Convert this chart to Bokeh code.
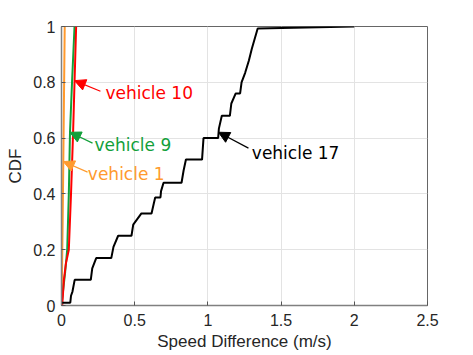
from bokeh.plotting import figure
from bokeh.models import (FixedTicker, Range1d, Arrow, NormalHead, Label)
from bokeh.embed import file_html
from bokeh.resources import INLINE

# ---- data ----
v1_x = [0.0, 0.003, 0.008, 0.012, 0.016, 0.019, 0.022]
v1_y = [0.0, 0.10, 0.30, 0.50, 0.70, 0.85, 1.0]

v9_x = [0.0, 0.010, 0.025, 0.039, 0.050, 0.058, 0.072, 0.089]
v9_y = [0.0, 0.05, 0.12, 0.20, 0.40, 0.62, 0.80, 1.0]

v10_x = [0.005, 0.016, 0.030, 0.050, 0.065, 0.078, 0.089, 0.100]
v10_y = [0.0, 0.09, 0.15, 0.20, 0.40, 0.60, 0.80, 1.0]

v17_x = [0.0, 0.06, 0.065, 0.075, 0.09, 0.20, 0.21, 0.237, 0.34, 0.355, 0.387,
         0.478, 0.49, 0.546, 0.615, 0.63, 0.64, 0.676, 0.68, 0.697, 0.82, 0.834,
         0.85, 0.96, 0.97, 1.07, 1.075, 1.095, 1.15, 1.16, 1.19, 1.22, 1.23,
         1.255, 1.28, 1.30, 1.34, 2.0]
v17_y = [0.01, 0.01, 0.035, 0.05, 0.092, 0.092, 0.133, 0.17, 0.17, 0.21, 0.25,
         0.25, 0.29, 0.33, 0.33, 0.365, 0.387, 0.387, 0.41, 0.44, 0.44, 0.484,
         0.523, 0.523, 0.60, 0.60, 0.634, 0.68, 0.68, 0.724, 0.76, 0.76, 0.80,
         0.835, 0.878, 0.92, 0.993, 1.0]

x_ticks = [0, 0.5, 1, 1.5, 2, 2.5]
x_tick_labels = ["0", "0.5", "1", "1.5", "2", "2.5"]
y_ticks = [0, 0.2, 0.4, 0.6, 0.8, 1]
y_tick_labels = ["0", "0.2", "0.4", "0.6", "0.8", "1"]

names = ["vehicle 1", "vehicle 9", "vehicle 10", "vehicle 17"]
colors = ["#ff9a2e", "#12a03a", "#ff0000", "#000000"]

FONT = "Liberation Sans"
AXC = "#262626"

p = figure(width=473, height=355, output_backend="svg", toolbar_location=None,
           x_range=Range1d(0, 2.5), y_range=Range1d(0, 1),
           min_border_left=61, min_border_right=46, min_border_top=26,
           min_border_bottom=50)
p.background_fill_color = "white"
p.border_fill_color = "white"
p.outline_line_color = "#666666"
p.outline_line_width = 1

for ax, ticks, labels in ((p.xaxis[0], x_ticks, x_tick_labels),
                          (p.yaxis[0], y_ticks, y_tick_labels)):
    ax.ticker = FixedTicker(ticks=ticks)
    ax.major_label_overrides = {t: l for t, l in zip(ticks, labels)}
    ax.major_tick_in = 4
    ax.major_tick_out = 0
    ax.minor_tick_in = 0
    ax.minor_tick_out = 0
    ax.axis_line_color = "#808080"
    ax.axis_line_width = 1.5
    ax.major_tick_line_color = "#555555"
    ax.major_label_text_font = FONT
    ax.major_label_text_font_size = "16px"
    ax.major_label_text_color = AXC
    ax.axis_label_text_font = FONT
    ax.axis_label_text_font_size = "17px"
    ax.axis_label_text_font_style = "normal"
    ax.axis_label_text_color = AXC

p.xaxis.axis_label = "Speed Difference (m/s)"
p.yaxis.axis_label = "CDF"
p.xaxis.major_label_standoff = 8
p.xaxis.axis_label_standoff = 3
p.yaxis.major_label_standoff = 6
p.yaxis.axis_label_standoff = 5

p.xgrid.ticker = FixedTicker(ticks=x_ticks)
p.ygrid.ticker = FixedTicker(ticks=y_ticks)
p.grid.grid_line_color = "#e3e3e3"
p.grid.grid_line_width = 1

# lines
series = [(v1_x, v1_y), (v9_x, v9_y), (v10_x, v10_y), (v17_x, v17_y)]
for (xs, ys), c in zip(series, colors):
    p.line(xs, ys, line_color=c, line_width=2)

# annotations: (arrow tail x,y), (arrow tip x,y), (text x,y)
annots = [
    ((0.178, 0.478), (0.012, 0.516), (0.18, 0.471)),
    ((0.212, 0.582), (0.057, 0.621), (0.225, 0.577)),
    ((0.266, 0.768), (0.089, 0.806), (0.30, 0.762)),
    ((1.277, 0.564), (1.072, 0.621), (1.30, 0.548)),
]
for name, c, (tail, tip, txt) in zip(names, colors, annots):
    p.add_layout(Arrow(x_start=tail[0], y_start=tail[1], x_end=tip[0], y_end=tip[1],
                       line_color=c, line_width=1.2,
                       end=NormalHead(size=11, fill_color=c, line_color=c)))
    p.add_layout(Label(x=txt[0], y=txt[1], text=name, text_color=c,
                       text_font="DejaVu Sans", text_font_size="17px",
                       text_align="left", text_baseline="middle"))

open("out.html", "w").write(file_html(p, INLINE))
